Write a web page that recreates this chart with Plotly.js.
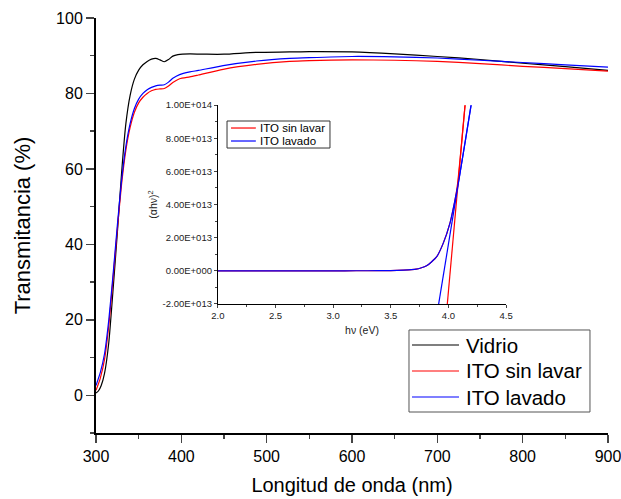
<!DOCTYPE html>
<html>
<head>
<meta charset="utf-8">
<script src="https://cdn.plot.ly/plotly-3.0.1.min.js"></script>
<style>html,body{margin:0;padding:0;background:#fff;}#chart{width:621px;height:499px;}</style>
</head>
<body>
<div id="chart"></div>
<script>
// Main chart: wavelength (nm) vs transmittance (%)
const wlVidrio = [300,303,306,310,315,320,325,330,335,340,345,350,355,360,365,370,375,380,385,390,396,410,430,450,488,527,550,600,650,700,750,800,850,900];
const tVidrio  = [0.6,1.2,2.5,5.8,14,28,43,59,72,79.5,83.8,86.2,87.6,88.5,89.1,89.3,88.9,88.4,89.0,89.9,90.3,90.5,90.4,90.4,90.9,91.0,91.1,91.0,90.5,89.8,89.0,88.0,87.1,86.1];
const wlITO = [300,305,310,315,320,325,330,335,340,345,350,355,360,365,370,375,380,385,390,398,410,420,449,488,527,550,600,650,700,750,800,850,900];
const tSinLavar = [1.3,4.5,9.5,18.5,31,44,56,65,71,75,77.5,79,80,80.7,81.1,81.2,81.3,82.0,82.9,83.9,84.4,84.9,86.4,87.7,88.5,88.7,88.9,88.8,88.5,87.9,87.2,86.6,85.9];
const tLavado    = [2.6,6,11,20,32,45,57,66,72,76,78.5,80,81,81.6,82.0,82.2,82.3,83.0,84.0,85.0,85.7,86.1,87.4,88.6,89.3,89.5,89.8,89.7,89.4,88.8,88.2,87.6,87.0];

// Inset: photon energy (eV) vs (alpha h nu)^2
const evSinLavar = [2.0,2.2,2.4,2.6,2.8,3.0,3.2,3.4,3.5,3.61,3.68,3.72,3.76,3.81,3.85,3.9,3.955,4.013,4.057,4.08,4.1,4.12,4.144,4.17];
const ahvSinLavar = [0,0,0,0,0,0,0.002e13,0.005e13,0.01e13,0.04e13,0.07e13,0.1e13,0.17e13,0.3e13,0.52e13,0.87e13,1.67e13,2.88e13,4.29e13,5.3e13,6.7e13,8.2e13,1.0e14,1.2e14];
const evLavado = [2.0,2.2,2.4,2.6,2.8,3.0,3.2,3.4,3.5,3.61,3.68,3.72,3.76,3.81,3.85,3.9,3.955,4.013,4.057,4.08,4.1,4.15,4.196,4.22];
const ahvLavado = [0,0,0,0,0,0,0.002e13,0.005e13,0.01e13,0.04e13,0.07e13,0.1e13,0.17e13,0.3e13,0.52e13,0.87e13,1.67e13,2.88e13,4.29e13,5.1e13,5.9e13,8.0e13,1.0e14,1.1e14];
const fitSinLavarX = [3.97,4.16];
const fitSinLavarY = [-3.56e13,1.126e14];
const fitLavadoX = [3.89,4.22];
const fitLavadoY = [-3.07e13,1.1e14];

const insetYTicks = [-2e13,0,2e13,4e13,6e13,8e13,1e14];
const insetYText = ["-2.00E+013","0.00E+000","2.00E+013","4.00E+013","6.00E+013","8.00E+013","1.00E+014"];
const insetXTicks = [2.0,2.5,3.0,3.5,4.0,4.5];
const insetXText = ["2.0","2.5","3.0","3.5","4.0","4.5"];

const mainNames = ["Vidrio","ITO sin lavar","ITO lavado"];
const mainColors = ["#000000","#ff0000","#0000ff"];
const insetNames = ["ITO sin lavar","ITO lavado"];
const insetColors = ["#ff0000","#0000ff"];

const traces = [
  {x: wlVidrio, y: tVidrio, name: mainNames[0], type: "scatter", mode: "lines", line: {color: mainColors[0], width: 1.2, shape: "spline", smoothing: 0.6}, xaxis: "x", yaxis: "y", showlegend: false},
  {x: wlITO, y: tSinLavar, name: mainNames[1], type: "scatter", mode: "lines", line: {color: mainColors[1], width: 1.2, shape: "spline", smoothing: 0.6}, xaxis: "x", yaxis: "y", showlegend: false},
  {x: wlITO, y: tLavado, name: mainNames[2], type: "scatter", mode: "lines", line: {color: mainColors[2], width: 1.2, shape: "spline", smoothing: 0.6}, xaxis: "x", yaxis: "y", showlegend: false},
  {x: evSinLavar, y: ahvSinLavar, name: insetNames[0], type: "scatter", mode: "lines", line: {color: insetColors[0], width: 1.2, shape: "spline", smoothing: 0.5}, xaxis: "x3", yaxis: "y3", showlegend: false},
  {x: evLavado, y: ahvLavado, name: insetNames[1], type: "scatter", mode: "lines", line: {color: insetColors[1], width: 1.2, shape: "spline", smoothing: 0.5}, xaxis: "x3", yaxis: "y3", showlegend: false},
  {x: fitSinLavarX, y: fitSinLavarY, name: "fit sin lavar", showlegend: false, type: "scatter", mode: "lines", line: {color: insetColors[0], width: 1.2}, xaxis: "x3", yaxis: "y3"},
  {x: fitLavadoX, y: fitLavadoY, name: "fit lavado", showlegend: false, type: "scatter", mode: "lines", line: {color: insetColors[1], width: 1.2}, xaxis: "x3", yaxis: "y3"}
];

const F = "Liberation Sans, Arial, sans-serif";
const insetXDom = [0.238, 0.801];
const insetYDom = [0.311, 0.790];

// Legend boxes (paper coordinates), built from names/colours above
const shapes = [];
const annotations = [];
function addLegend(box, lineX, textX, rowsY, names, colors, fontSize, border) {
  shapes.push({type: "rect", xref: "paper", yref: "paper", x0: box[0], x1: box[1], y0: box[2], y1: box[3],
    line: {color: border, width: 1}, fillcolor: "#ffffff", layer: "above"});
  names.forEach((n, i) => {
    shapes.push({type: "line", xref: "paper", yref: "paper", x0: lineX[0], x1: lineX[1], y0: rowsY[i], y1: rowsY[i],
      line: {color: colors[i], width: 1.2}, layer: "above"});
    annotations.push({xref: "paper", yref: "paper", x: textX, y: rowsY[i], xanchor: "left", yanchor: "middle",
      text: n, showarrow: false, font: {size: fontSize, family: F, color: "#000"}});
  });
}
addLegend([0.6113, 0.9648, 0.0506, 0.2482], [0.6172, 0.709], 0.7187, [0.2120, 0.1494, 0.0867], mainNames, mainColors, 20.5, "#555555");
addLegend([0.2559, 0.4570, 0.6867, 0.7518], [0.2637, 0.3125], 0.3164, [0.7349, 0.7036], insetNames, insetColors, 11.5, "#333333");

const layout = {
  width: 621, height: 499,
  margin: {l: 96, r: 13, t: 18, b: 66},
  paper_bgcolor: "#ffffff", plot_bgcolor: "#ffffff",
  font: {family: F, color: "#000000"},
  showlegend: false,
  shapes: shapes,
  annotations: annotations,
  xaxis: {
    range: [300, 900], tick0: 300, dtick: 100, ticks: "outside", ticklen: 8, tickwidth: 1.5,
    showline: true, linewidth: 2, linecolor: "#000", showgrid: false, zeroline: false,
    tickfont: {size: 16, family: F}, ticklabeloverflow: "allow",
    minor: {dtick: 50, ticks: "outside", ticklen: 4, tickwidth: 1.5, showgrid: false},
    title: {text: "Longitud de onda (nm)", font: {size: 20, family: F}, standoff: 14},
    anchor: "y"
  },
  yaxis: {
    range: [-10, 100], tick0: 0, dtick: 20, ticks: "outside", ticklen: 8, tickwidth: 1.5,
    showline: true, linewidth: 2, linecolor: "#000", showgrid: false, zeroline: false,
    tickfont: {size: 16, family: F}, ticklabeloverflow: "allow",
    minor: {dtick: 10, ticks: "outside", ticklen: 4, tickwidth: 1.5, showgrid: false},
    title: {text: "Transmitancia (%)", font: {size: 22, family: F}, standoff: 19},
    anchor: "x"
  },
  xaxis2: {
    overlaying: "x", side: "top", anchor: "y", range: [0, 10], dtick: 1, ticks: "inside", ticklen: 6, tickwidth: 1.5,
    showline: true, linewidth: 2, linecolor: "#000", showticklabels: false, showgrid: false, zeroline: false
  },
  yaxis2: {
    overlaying: "y", side: "right", anchor: "x", range: [0, 10], dtick: 1, ticks: "inside", ticklen: 6, tickwidth: 1.5,
    showline: true, linewidth: 2, linecolor: "#000", showticklabels: false, showgrid: false, zeroline: false
  },
  xaxis3: {
    domain: insetXDom, anchor: "y3", range: [2.0, 4.5],
    tickvals: insetXTicks, ticktext: insetXText, ticks: "outside", ticklen: 3, tickwidth: 1,
    showline: true, linewidth: 1, linecolor: "#000", showgrid: false, zeroline: false,
    tickfont: {size: 9.5, family: F, color: "#222"},
    minor: {dtick: 0.25, tick0: 2.0, ticks: "outside", ticklen: 2, tickwidth: 1, showgrid: false},
    title: {text: "hν (eV)", font: {size: 10.5, family: F, color: "#222"}, standoff: 6}
  },
  yaxis3: {
    domain: insetYDom, anchor: "x3", range: [-2e13, 1e14],
    tickvals: insetYTicks, ticktext: insetYText, ticks: "outside", ticklen: 3, tickwidth: 1,
    showline: true, linewidth: 1, linecolor: "#000", showgrid: false, zeroline: false,
    tickfont: {size: 9.5, family: F, color: "#222"},
    minor: {dtick: 1e13, tick0: 0, ticks: "outside", ticklen: 2, tickwidth: 1, showgrid: false},
    title: {text: "(αhν)<sup>2</sup>", font: {size: 10.5, family: F, color: "#222"}, standoff: 2}
  },
  xaxis4: {
    overlaying: "x3", side: "top", anchor: "y3", domain: insetXDom, range: [0, 10], dtick: 1,
    ticks: "inside", ticklen: 3, tickwidth: 1, showline: true, linewidth: 1, linecolor: "#000",
    showticklabels: false, showgrid: false, zeroline: false
  },
  yaxis4: {
    overlaying: "y3", side: "right", anchor: "x3", domain: insetYDom, range: [0, 5], dtick: 1,
    ticks: "inside", ticklen: 3, tickwidth: 1, showline: true, linewidth: 1, linecolor: "#000",
    showticklabels: false, showgrid: false, zeroline: false
  }
};

Plotly.newPlot("chart", traces, layout, {displayModeBar: false, staticPlot: true});
</script>
</body>
</html>
